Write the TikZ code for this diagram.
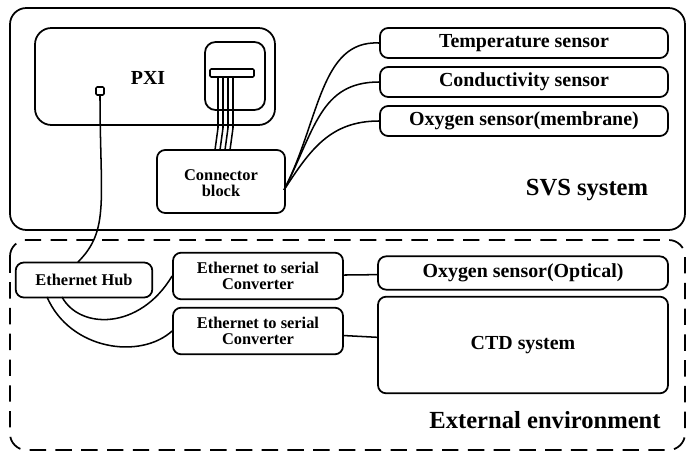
\documentclass[tikz,border=0pt]{standalone}
\usepackage{fontspec}
\setmainfont{Liberation Serif}
\begin{document}
\begin{tikzpicture}[x=0.03cm,y=-0.03cm,
    box/.style={draw, line width=1.5pt, rounded corners=7pt},
    lbl/.style={font=\bfseries\fontsize{17}{17}\selectfont},
    small/.style={font=\bfseries\fontsize{14}{14}\selectfont, align=center},
    wire/.style={line width=1.3pt}]
    \useasboundingbox (0,0) rectangle (695,458);

    % SVS system
    \draw[box, rounded corners=14pt] (10,8) rectangle (685,230);
    \draw[box, rounded corners=14pt] (35,28) rectangle (275,125);
    \node[lbl] (pxi) at (148,78) {PXI};
    \draw[box, rounded corners=9pt] (205,42) rectangle (265,110);
    \draw[wire, rounded corners=1pt] (210,69) rectangle (254,77);
    \draw[wire, rounded corners=1pt] (96,87) rectangle (104,95);
    \coordinate (port) at (100,95);

    \draw[box] (157,150) rectangle (285,213);
    \node[small] (cblock) at (221,183) {Connector\\block};

    % 4 wires from the bar down to the connector block
    \foreach \i in {0,...,3} {
        \draw[wire] (218+5*\i,77) -- (218+5*\i,128) -- (215+5*\i,150);
    }

    \node[box, lbl, minimum width=8.64cm, minimum height=0.9cm] (temp) at (524,43) {Temperature sensor};
    \node[box, lbl, minimum width=8.64cm, minimum height=0.9cm] (cond) at (524,82) {Conductivity sensor};
    \node[box, lbl, minimum width=8.64cm, minimum height=0.9cm] (oxm) at (524,121) {Oxygen sensor(membrane)};
    \coordinate (cbr) at (284,190);
    \draw[wire] (cbr) .. controls (320,120) and (320,40) .. (temp.west);
    \draw[wire] (cbr) .. controls (315,130) and (320,82) .. (cond.west);
    \draw[wire] (cbr) .. controls (310,150) and (330,121) .. (oxm.west);
    \node[font=\bfseries\fontsize{21}{21}\selectfont] (svs) at (587,190) {SVS system};

    % External environment
    \draw[line width=1.5pt, dash pattern=on 14pt off 8pt, rounded corners=14pt] (10,240) rectangle (685,450);
    \node[box, small, minimum width=4.1cm, minimum height=1.05cm] (hub) at (84,280) {Ethernet Hub};
    \node[box, small, minimum width=5.1cm, minimum height=1.4cm, inner sep=1pt] (conv1) at (258,276) {Ethernet to serial\\Converter};
    \node[box, small, minimum width=5.1cm, minimum height=1.4cm, inner sep=1pt] (conv2) at (258,331) {Ethernet to serial\\Converter};
    \node[box, lbl, minimum width=8.7cm, minimum height=1cm] (oxo) at (523,273) {Oxygen sensor(Optical)};
    \node[box, lbl, minimum width=8.7cm, minimum height=2.9cm] (ctd) at (523,345) {CTD system};
    \node[font=\bfseries\fontsize{21}{21}\selectfont] (ext) at (545,420) {External environment};

    \draw[wire] (port) .. controls (100,200) and (110,230) .. (78,262);
    \draw[wire] (conv1) -- (oxo);
    \draw[wire] (conv2) -- (ctd);
    \draw[wire] (62,297) .. controls (80,330) and (140,330) .. (conv1.west);
    \draw[wire] (47,297) .. controls (70,350) and (140,360) .. (conv2.west);
\end{tikzpicture}
\end{document}
